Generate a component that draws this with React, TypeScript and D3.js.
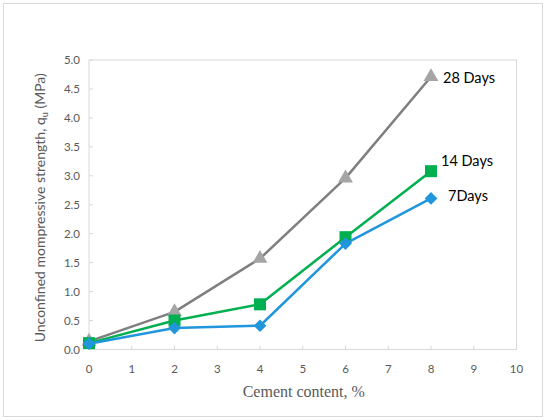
import React from "react";
import * as d3 from "d3";

const cement = [0, 2, 4, 6, 8];
const days28 = [0.14, 0.65, 1.57, 2.96, 4.71];
const days14 = [0.11, 0.5, 0.78, 1.94, 3.08];
const days7 = [0.1, 0.37, 0.41, 1.83, 2.61];
const xTicks = [0, 1, 2, 3, 4, 5, 6, 7, 8, 9, 10];
const yTicks = [0, 0.5, 1, 1.5, 2, 2.5, 3, 3.5, 4, 4.5, 5];

const series = [
  { name: "28 Days", values: days28, line: "#7f7f7f", marker: "#a5a5a5", shape: "triangle", dx: 12, dy: 6 },
  { name: "14 Days", values: days14, line: "#00b050", marker: "#00b050", shape: "square", dx: 10, dy: -5 },
  { name: "7Days", values: days7, line: "#2196dc", marker: "#2196dc", shape: "diamond", dx: 17, dy: 3 },
];

export default function App() {
  const W = 550, H = 420;
  const m = { left: 89, right: 516.5, top: 60, bottom: 349.5 };
  const x = d3.scaleLinear().domain([0, 10]).range([m.left, m.right]);
  const y = d3.scaleLinear().domain([0, 5]).range([m.bottom, m.top]);
  const line = d3.line<number>().x((_, i) => x(cement[i])).y((d) => y(d));
  const sans = "Lato, 'Open Sans', sans-serif";

  const marker = (shape: string, cx: number, cy: number, fill: string, key: string) => {
    if (shape === "square") {
      return <rect key={key} x={cx - 6} y={cy - 6} width={12} height={12} fill={fill} />;
    }
    if (shape === "triangle") {
      const p = d3.symbol(d3.symbolTriangle, 95)();
      return <path key={key} d={p || ""} transform={`translate(${cx},${cy})`} fill={fill} />;
    }
    return <rect key={key} x={-4.5} y={-4.5} width={9} height={9} transform={`translate(${cx},${cy}) rotate(45)`} fill={fill} />;
  };

  return (
    <svg width={W} height={H} style={{ position: "absolute", left: 0, top: 0 }}>
      <rect x={0} y={0} width={W} height={H} fill="#fff" />
      <rect x={3.5} y={3.5} width={539} height={413} fill="none" stroke="#d9d9d9" strokeWidth={1} />
      <rect x={m.left} y={m.top} width={m.right - m.left} height={m.bottom - m.top} fill="none" stroke="#d9d9d9" strokeWidth={1} />
      {xTicks.map((t) => (
        <g key={"x" + t}>
          <line x1={x(t)} x2={x(t)} y1={m.bottom} y2={m.bottom - 4} stroke="#d9d9d9" />
          <text x={x(t)} y={373} textAnchor="middle" fontFamily={sans} fontSize={11.5} fill="#595959">{t}</text>
        </g>
      ))}
      {yTicks.map((t) => (
        <g key={"y" + t}>
          <line x1={m.left} x2={m.left + 4} y1={y(t)} y2={y(t)} stroke="#d9d9d9" />
          <text x={80} y={y(t) + 4} textAnchor="end" fontFamily={sans} fontSize={11.5} fill="#595959">{t.toFixed(1)}</text>
        </g>
      ))}
      <text x={(m.left + m.right) / 2 + 1} y={397} textAnchor="middle" fontFamily="'Liberation Serif', serif" fontSize={16} fill="#595959">Cement content, %</text>
      <text transform={`translate(45,${(m.top + m.bottom) / 2 + 3}) rotate(-90)`} textAnchor="middle" fontFamily={sans} fontSize={14} fill="#595959">
        Unconfined mompressive strength, q<tspan fontSize={9} dy={3}>u</tspan><tspan dy={-3}> (MPa)</tspan>
      </text>
      {series.map((s) => (
        <g key={s.name}>
          <path d={line(s.values) || ""} fill="none" stroke={s.line} strokeWidth={2.5} strokeLinejoin="round" />
          {s.values.map((v, i) => marker(s.shape, x(cement[i]), y(v), s.marker, s.name + i))}
          <text x={x(8) + s.dx} y={y(s.values[4]) + s.dy} fontFamily={sans} fontSize={14.5} fill="#000">{s.name}</text>
        </g>
      ))}
    </svg>
  );
}
